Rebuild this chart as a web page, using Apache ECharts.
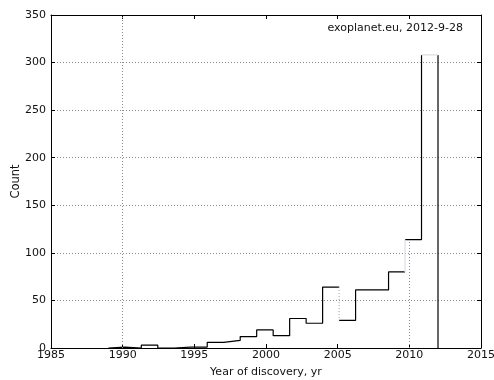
<!DOCTYPE html>
<html>
<head>
<meta charset="utf-8">
<script src="https://cdn.jsdelivr.net/npm/echarts@6/dist/echarts.min.js"></script>
<style>
  html, body { margin: 0; padding: 0; background: #fff; }
  #chart { width: 494px; height: 380px; }
</style>
</head>
<body>
<div id="chart"></div>
<script>
// Histogram of exoplanet discoveries per year (20 bins, 1989 to 2012)
const binEdges = [1989, 1990.15, 1991.3, 1992.45, 1993.6, 1994.75, 1995.9, 1997.05,
  1998.2, 1999.35, 2000.5, 2001.65, 2002.8, 2003.95, 2005.1, 2006.25, 2007.4,
  2008.55, 2009.7, 2010.85, 2012];
const counts = [1, 0, 3, 0, 1, 1, 6, 8, 12, 19, 13, 31, 26, 64, 29, 61, 61, 80, 114, 308];
const xTicks = [1985, 2015, 5];   // min, max, step
const yTicks = [0, 350, 50];
const sourceNote = 'exoplanet.eu, 2012-9-28';
const xTitle = 'Year of discovery, yr';
const yTitle = 'Count';

// Step outline points: up the first edge, across each bin, down the last edge
const outline = [[binEdges[0], 0]];
counts.forEach((c, i) => {
  outline.push([binEdges[i], c]);
  outline.push([binEdges[i + 1], c]);
});
outline.push([binEdges[binEdges.length - 1], 0]);

// Outline segments that are rendered faint (segment k joins point k and k+1)
const faintSolid = [36, 39];
const faintDotted = [28];
const faint = new Set(faintSolid.concat(faintDotted));

const BREAK = [NaN, NaN];
const darkPath = [outline[0]];
for (let k = 0; k < outline.length - 1; k++) {
  if (faint.has(k)) {
    darkPath.push(BREAK);
  }
  darkPath.push(outline[k + 1]);
}
function pathFor(segs) {
  const out = [];
  segs.forEach(k => { out.push(outline[k], outline[k + 1], BREAK); });
  return out;
}

const FONT = 'DejaVu Sans';
const TXT = '#111';
const gridDots = { color: '#8a8a8a', width: 1, type: [1, 2] };
const plain = v => String(v);

const chart = echarts.init(document.getElementById('chart'), null, { renderer: 'canvas' });

const axisBase = {
  type: 'value',
  axisLine: { show: true, onZero: false, lineStyle: { color: '#000', width: 1 } },
  axisTick: { show: true, inside: true, length: 4, lineStyle: { color: '#000', width: 1 } }
};

chart.setOption({
  animation: false,
  backgroundColor: '#fff',
  textStyle: { fontFamily: FONT },
  grid: { left: 51, right: 13, top: 15, bottom: 32, containLabel: false, outerBoundsMode: 'none' },
  xAxis: [
    Object.assign({}, axisBase, {
      position: 'bottom',
      min: xTicks[0], max: xTicks[1], interval: xTicks[2],
      name: xTitle, nameLocation: 'middle', nameGap: 19, nameMoveOverlap: false,
      nameTextStyle: { fontFamily: FONT, fontSize: 11, color: TXT },
      axisLabel: { fontFamily: FONT, fontSize: 11, color: TXT, margin: 2, formatter: plain },
      splitLine: { show: false }
    }),
    Object.assign({}, axisBase, {
      position: 'top',
      min: xTicks[0], max: xTicks[1], interval: xTicks[2],
      axisLabel: { show: false },
      splitLine: { show: false }
    })
  ],
  yAxis: [
    Object.assign({}, axisBase, {
      position: 'left',
      min: yTicks[0], max: yTicks[1], interval: yTicks[2],
      name: yTitle, nameLocation: 'middle', nameGap: 29, nameMoveOverlap: false,
      nameTextStyle: { fontFamily: FONT, fontSize: 11.5, color: TXT },
      axisLabel: { fontFamily: FONT, fontSize: 11, color: TXT, margin: 5, formatter: plain },
      splitLine: { show: true, lineStyle: gridDots }
    }),
    Object.assign({}, axisBase, {
      position: 'right',
      min: yTicks[0], max: yTicks[1], interval: yTicks[2],
      axisLabel: { show: false },
      splitLine: { show: false }
    })
  ],
  series: [
    {
      name: 'discoveries',
      type: 'line',
      xAxisIndex: 0, yAxisIndex: 0,
      data: darkPath,
      showSymbol: false, symbol: 'none',
      connectNulls: false,
      lineStyle: { color: '#000', width: 1.2 },
      silent: true,
      markLine: {
        silent: true,
        symbol: 'none',
        label: { show: false },
        lineStyle: gridDots,
        data: [
          [{ coord: [1990, 0] }, { coord: [1990, 350] }],
          [{ coord: [2010, 0] }, { coord: [2010, 112] }]
        ]
      },
      z: 3
    },
    {
      name: 'faint edges',
      type: 'line',
      xAxisIndex: 0, yAxisIndex: 0,
      data: pathFor(faintSolid),
      showSymbol: false, symbol: 'none',
      connectNulls: false,
      lineStyle: { color: '#dcdce6', width: 1.2 },
      silent: true,
      z: 3
    },
    {
      name: 'faint dotted edge',
      type: 'line',
      xAxisIndex: 0, yAxisIndex: 0,
      data: pathFor(faintDotted),
      showSymbol: false, symbol: 'none',
      connectNulls: false,
      lineStyle: { color: '#9a9aa6', width: 1, type: [1, 2] },
      silent: true,
      z: 3
    }
  ],
  graphic: [
    {
      type: 'text',
      style: {
        x: 463, y: 28,
        text: sourceNote,
        fill: TXT,
        font: '11px "DejaVu Sans"',
        textAlign: 'right',
        textVerticalAlign: 'middle'
      }
    }
  ]
});
</script>
</body>
</html>
